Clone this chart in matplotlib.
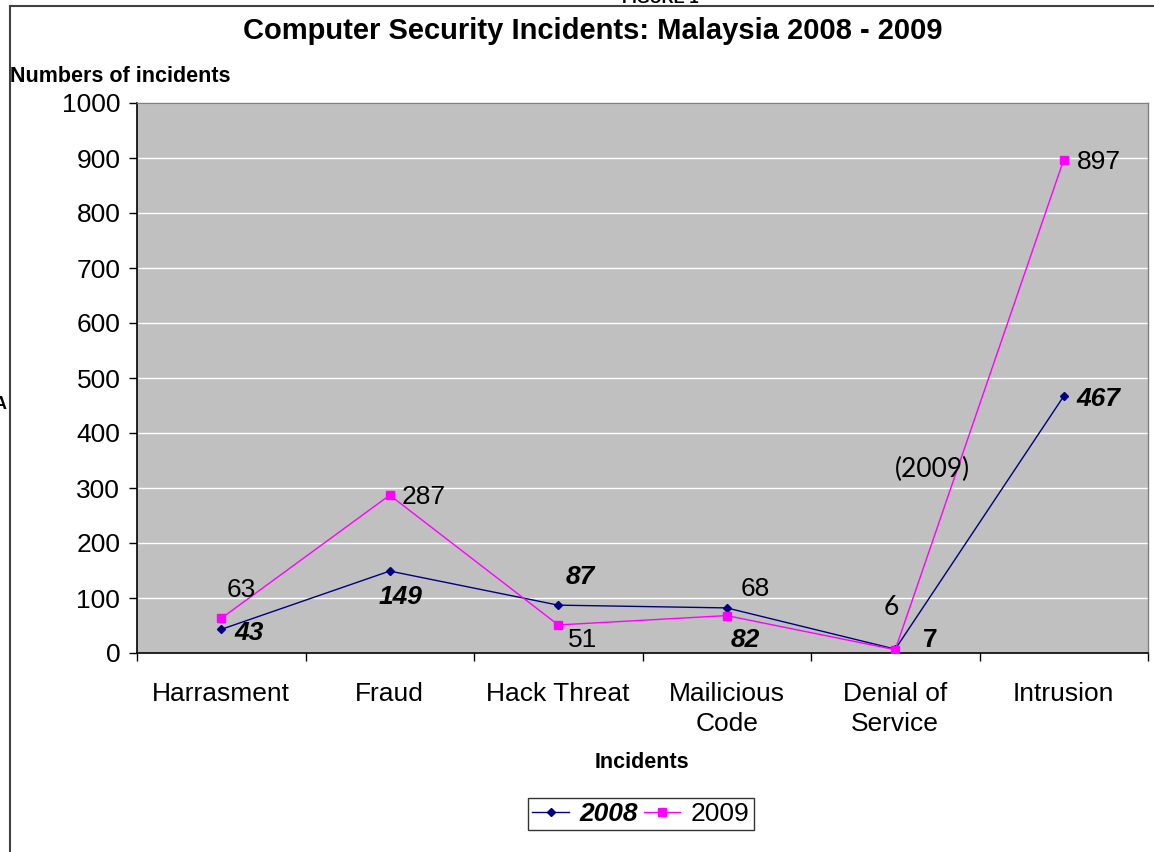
import matplotlib
matplotlib.use('Agg')
import numpy as np
from matplotlib import pyplot as plt
from matplotlib.lines import Line2D

plt.rcParams['font.family'] = ['Liberation Sans', 'DejaVu Sans']

categories = ['Harrasment', 'Fraud', 'Hack Threat', 'Mailicious\nCode',
              'Denial of\nService', 'Intrusion']
incidents_2008 = [43, 149, 87, 82, 7, 467]
incidents_2009 = [63, 287, 51, 68, 6, 897]

# label offsets (pixels) from each point
off_2008 = [(28, -4), (11, -26), (22, 28), (19, -32), (35, 9), (35, -3)]
off_2009 = [(20, 28), (34, -2), (24, -15), (29, 27), (-4, 42), (35, -2)]

NAVY, MAGENTA = '#000080', '#FF00FF'
W, H = 1154, 852
FS = 19

fig = plt.figure(figsize=(W / 100, H / 100), dpi=100)
ax = fig.add_axes([137 / W, 1 - 653 / H, 1011 / W, 550 / H])
ax.set_facecolor('#C0C0C0')

x = np.arange(len(categories))
ax.plot(x, incidents_2008, '-', color=NAVY, lw=1.0, marker='D', ms=4.5,
        mfc=NAVY, mec=NAVY, zorder=3)
ax.plot(x, incidents_2009, '-', color=MAGENTA, lw=1.0, marker='s', ms=5.5,
        mfc=MAGENTA, mec=MAGENTA, zorder=3)

for i, v in enumerate(incidents_2008):
    kw = dict(fontweight='bold', fontstyle='italic')
    if i == 4:
        kw = dict(fontweight='bold')
    ax.annotate(str(v), (x[i], v), xytext=off_2008[i], textcoords='offset pixels',
                ha='center', va='center', fontsize=FS, zorder=4, **kw)
for i, v in enumerate(incidents_2009):
    fam = ['Lato', 'DejaVu Sans'] if i == 4 else None
    ax.annotate(str(v), (x[i], v), xytext=off_2009[i], textcoords='offset pixels',
                ha='center', va='center', fontsize=FS, zorder=4, family=fam)
ax.text(4.22, 333, '(2009)', ha='center', va='center', fontsize=FS,
        family=['Lato', 'DejaVu Sans'], zorder=4)

ax.set_xlim(-0.5, len(categories) - 0.5)
ax.set_ylim(0, 1000)
ax.set_yticks(np.arange(0, 1001, 100))
ax.yaxis.grid(True, color='white', lw=1.0)
ax.set_axisbelow(True)

ax.set_xticks(x)
ax.set_xticklabels(categories, fontsize=FS, linespacing=1.3)
ax.set_xticks(np.arange(-0.5, len(categories), 1.0), minor=True)
ax.tick_params(axis='x', which='major', length=0, pad=21)
ax.tick_params(axis='x', which='minor', length=6, width=1, direction='out')
ax.tick_params(axis='y', length=6, width=1, direction='out', pad=6, labelsize=FS)

for side in ('left', 'bottom'):
    ax.spines[side].set_color('black')
    ax.spines[side].set_linewidth(1.2)
for side in ('top', 'right'):
    ax.spines[side].set_color('#808080')
    ax.spines[side].set_linewidth(1.0)

fig.text(593 / W, 1 - 31 / H, 'Computer Security Incidents: Malaysia 2008 - 2009',
         ha='center', va='center', fontsize=21, fontweight='bold')
fig.text(10 / W, 1 - 76 / H, 'Numbers of incidents', ha='left', va='center',
         fontsize=15.5, fontweight='bold')
fig.text(642 / W, 1 - 762 / H, 'Incidents', ha='center', va='center',
         fontsize=15.5, fontweight='bold')

# text cut off at the page edges
fig.text(660 / W, 1 - 3 / H, 'FIGURE 1', ha='center', va='baseline',
         fontsize=12, fontweight='bold')
fig.text(-6 / W, 1 - 405 / H, 'A', ha='left', va='center', fontsize=13,
         fontweight='bold')

# page frame
fig.add_artist(Line2D([10 / W, 10 / W], [0, 1 - 6 / H], transform=fig.transFigure,
                      color='#404040', lw=1.5))
fig.add_artist(Line2D([10 / W, 1], [1 - 6 / H, 1 - 6 / H], transform=fig.transFigure,
                      color='#404040', lw=1.5))

handles = [Line2D([], [], color=NAVY, lw=1.0, marker='D', ms=4.5),
           Line2D([], [], color=MAGENTA, lw=1.0, marker='s', ms=5.5)]
leg = fig.legend(handles, ['2008', '2009'], loc='center', ncol=2,
                 bbox_to_anchor=(641 / W, 1 - 814 / H), fontsize=FS,
                 frameon=True, fancybox=False, edgecolor='black',
                 handlelength=1.4, handletextpad=0.4, columnspacing=0.2,
                 borderpad=0.15, borderaxespad=0)
leg.get_frame().set_linewidth(1.0)
leg.get_texts()[0].set_fontweight('bold')
leg.get_texts()[0].set_fontstyle('italic')

fig.savefig('out.png', dpi=100)
